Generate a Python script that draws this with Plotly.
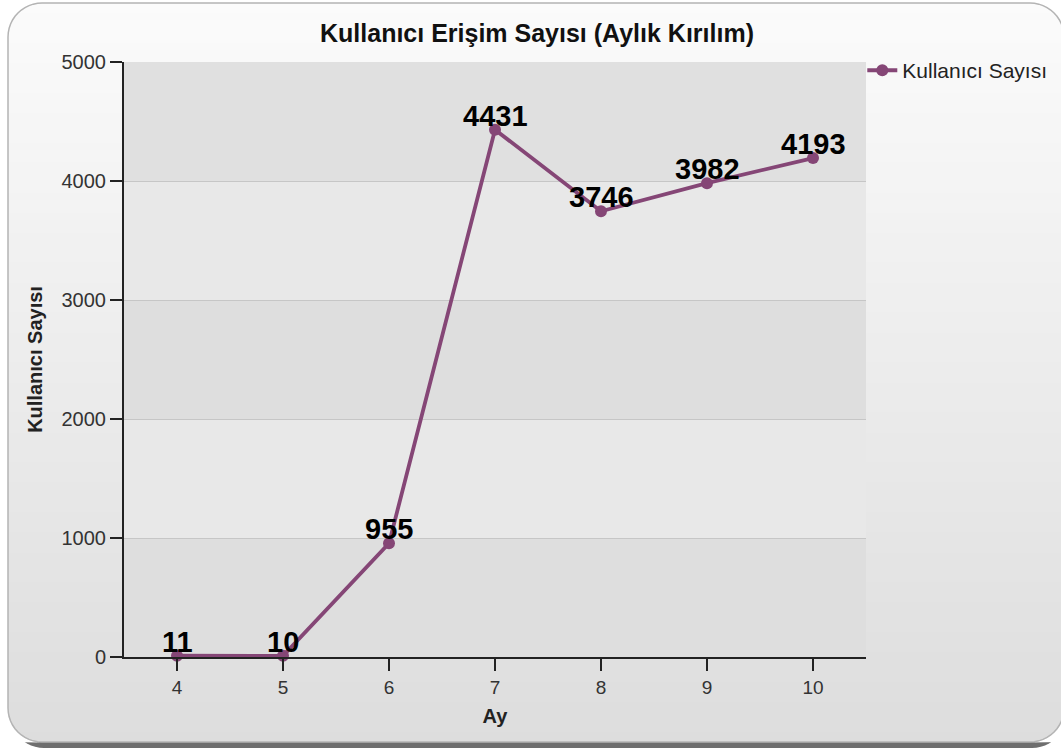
import math
import plotly.graph_objects as go

# ---- data ----
months = ["4", "5", "6", "7", "8", "9", "10"]
users = [11, 10, 955, 4431, 3746, 3982, 4193]
y_ticks = [0, 1000, 2000, 3000, 4000, 5000]

title_text = "Kullanıcı Erişim Sayısı (Aylık Kırılım)"
series_name = "Kullanıcı Sayısı"
y_title = "Kullanıcı Sayısı"
x_title = "Ay"

# ---- layout geometry ----
W, H = 1061, 749
ML, MR, MT, MB = 124, 195, 62, 92
PW, PH = W - ML - MR, H - MT - MB
FONT = "Liberation Sans, Arial, sans-serif"
LINE_COLOR = "#854676"


def px(x):
    return (x - ML) / PW


def py(y):
    return (H - MB - y) / PH


def rr_points(x0, y0, x1, y1, r, n=12):
    pts = []
    corners = [
        (x1 - r, y0 + r, -90, 0),
        (x1 - r, y1 - r, 0, 90),
        (x0 + r, y1 - r, 90, 180),
        (x0 + r, y0 + r, 180, 270),
    ]
    for cx, cy, a0, a1 in corners:
        for i in range(n + 1):
            a = math.radians(a0 + (a1 - a0) * i / n)
            pts.append((cx + r * math.cos(a), cy + r * math.sin(a)))
    return pts


def to_path(pts, close=True):
    s = "M " + " L ".join(f"{px(x):.5f},{py(y):.5f}" for x, y in pts)
    return s + (" Z" if close else "")


def corner_mask(cx, cy, ex, ey, a0, a1, r, n=12):
    pts = [(ex, ey)]
    for i in range(n + 1):
        a = math.radians(a0 + (a1 - a0) * i / n)
        pts.append((cx + r * math.cos(a), cy + r * math.sin(a)))
    return to_path(pts)


shapes = []
BX0, BY0, BX1, BY1, R = 8, 3, 1064, 742, 34

# shadow
shapes.append(dict(type="path", xref="paper", yref="paper", layer="below",
                   path=to_path(rr_points(BX0 + 2, BY0 + 6, BX1 + 2, BY1 + 6, R)),
                   fillcolor="#6e6e6e", line=dict(width=0)))

# vertical gradient: each stripe runs to the bottom, later ones overlay
N = 74
top_c, bot_c = 251, 221
for i in range(N):
    y0 = BY0 + (BY1 - BY0) * i / N
    t = (i + 0.5) / N
    c = round(top_c + (bot_c - top_c) * t)
    shapes.append(dict(type="rect", xref="paper", yref="paper", layer="below",
                       x0=px(BX0), x1=px(BX1), y0=py(y0), y1=py(BY1),
                       fillcolor=f"rgb({c},{c},{c})", line=dict(width=0)))

# corner masks (restore white outside rounded corners)
masks = [
    (BX0 + R, BY0 + R, BX0, BY0, 180, 270),
    (BX1 - R, BY0 + R, BX1, BY0, 270, 360),
    (BX1 - R, BY1 - R, BX1, BY1, 0, 90),
    (BX0 + R, BY1 - R, BX0, BY1, 90, 180),
]
for cx, cy, ex, ey, a0, a1 in masks:
    shapes.append(dict(type="path", xref="paper", yref="paper", layer="below",
                       path=corner_mask(cx, cy, ex, ey, a0, a1, R + 0.5),
                       fillcolor="white", line=dict(width=0)))
shapes.append(dict(type="path", xref="paper", yref="paper", layer="below",
                   path=to_path(rr_points(BX0, BY0, BX1, BY1, R)),
                   fillcolor="rgba(0,0,0,0)", line=dict(color="#b4b4b4", width=1.5)))

# plot area bands
band_cols = ["#dedede", "#e8e8e8", "#dedede", "#e8e8e8", "#e0e0e0"]
for i in range(len(y_ticks) - 1):
    shapes.append(dict(type="rect", xref="paper", yref="y", layer="below",
                       x0=0, x1=1, y0=y_ticks[i], y1=y_ticks[i + 1],
                       fillcolor=band_cols[i], line=dict(width=0)))

fig = go.Figure()
fig.add_trace(go.Scatter(
    x=months, y=users, name=series_name,
    mode="lines+markers",
    line=dict(color=LINE_COLOR, width=3.8),
    marker=dict(color=LINE_COLOR, size=12),
    cliponaxis=False,
))

# value labels positioned by category index on the category axis
annotations = [
    dict(x=i, y=v, xref="x", yref="y", text=str(v), showarrow=False,
         xanchor="center", yanchor="bottom", yshift=-4,
         font=dict(family=FONT, size=29, color="#000000", weight="bold"))
    for i, v in enumerate(users)
]

fig.update_layout(
    width=W, height=H,
    margin=dict(l=ML, r=MR, t=MT, b=MB, autoexpand=False),
    paper_bgcolor="white",
    plot_bgcolor="rgba(0,0,0,0)",
    font=dict(family=FONT, color="#222222"),
    title=dict(text=title_text, x=537 / W, xanchor="center", xref="container",
               y=1 - 33 / H, yanchor="middle",
               font=dict(family=FONT, size=25, color="#111111", weight="bold")),
    shapes=shapes,
    annotations=annotations,
    showlegend=True,
    legend=dict(x=0.995, xanchor="left", y=1.02, yanchor="top",
                bgcolor="rgba(0,0,0,0)", itemwidth=30,
                font=dict(family=FONT, size=21, color="#222222")),
    xaxis=dict(type="category", range=[-0.5, 6.5], showgrid=False,
               showline=True, linecolor="#222222", linewidth=2,
               ticks="outside", ticklen=12, tickwidth=2, tickcolor="#222222",
               tickfont=dict(family=FONT, size=19, color="#333333"),
               title=dict(text=x_title, standoff=12,
                          font=dict(family=FONT, size=20, color="#222222", weight="bold")),
               zeroline=False, fixedrange=True),
    yaxis=dict(range=[0, 5000], tickvals=y_ticks, showgrid=True,
               gridcolor="#c6c6c6", gridwidth=1,
               showline=True, linecolor="#222222", linewidth=2,
               ticks="outside", ticklen=12, tickwidth=2, tickcolor="#222222",
               tickfont=dict(family=FONT, size=20, color="#333333"),
               title=dict(text=y_title, standoff=14,
                          font=dict(family=FONT, size=20, color="#222222", weight="bold")),
               zeroline=False, fixedrange=True),
)

fig.write_html("out.html",
               config={"displayModeBar": False},
               post_script="document.body.style.margin='0';document.body.style.overflow='hidden';")
